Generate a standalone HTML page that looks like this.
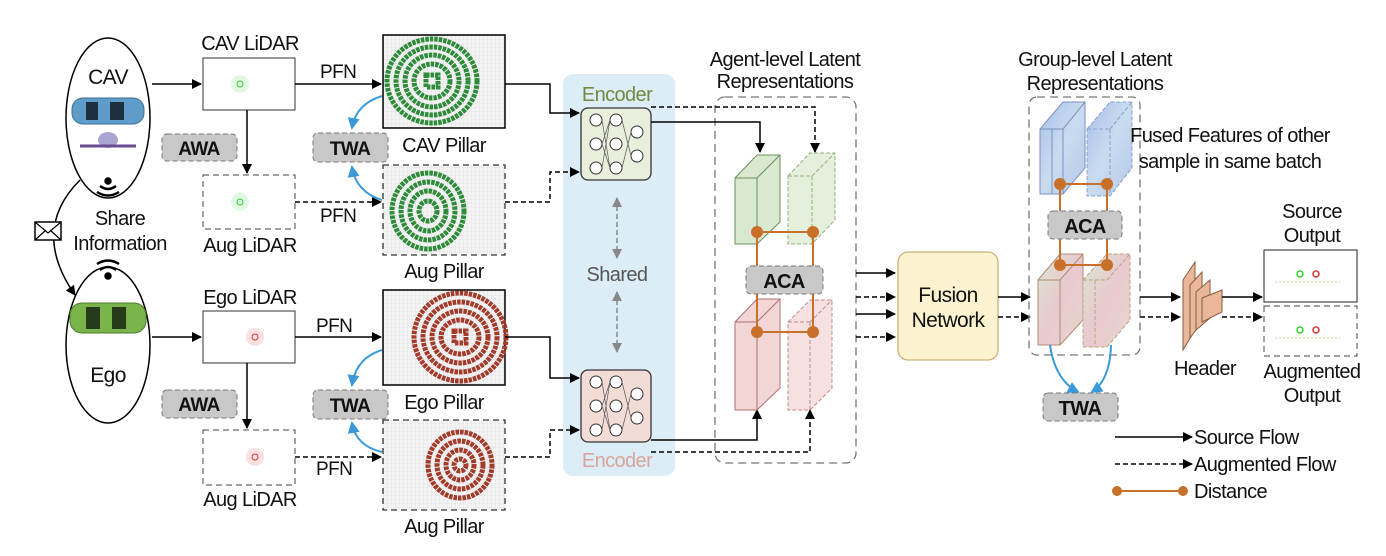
<!DOCTYPE html>
<html><head><meta charset="utf-8"><style>
html,body{margin:0;padding:0;background:#fff}
svg{display:block}
text{font-family:"Liberation Sans Narrow","Liberation Sans",sans-serif;fill:#111;letter-spacing:-0.6px}
</style></head><body>
<svg width="1386" height="556" viewBox="0 0 1386 556" xmlns="http://www.w3.org/2000/svg">
<defs>
<marker id="ah" markerWidth="10" markerHeight="10" refX="9" refY="5" orient="auto" markerUnits="userSpaceOnUse"><path d="M0,0 L10,5 L0,10 Z" fill="#000"/></marker>
<marker id="ab" markerWidth="12" markerHeight="12" refX="10" refY="6" orient="auto" markerUnits="userSpaceOnUse"><path d="M0,0 L12,6 L0,12 Z" fill="#3a9ad9"/></marker>
<marker id="ag" markerWidth="10" markerHeight="10" refX="9" refY="5" orient="auto-start-reverse" markerUnits="userSpaceOnUse"><path d="M0,0 L10,5 L0,10 Z" fill="#888"/></marker>
<pattern id="grid" width="4" height="4" patternUnits="userSpaceOnUse"><rect width="4" height="4" fill="#f4f4f4"/><path d="M4,0 V4 H0" fill="none" stroke="#d8d8d8" stroke-width="0.6"/></pattern>
<linearGradient id="gb" x1="0" y1="0" x2="1" y2="1"><stop offset="0" stop-color="#a9c0ea"/><stop offset="0.5" stop-color="#c9dcef"/><stop offset="1" stop-color="#b6c6e8"/></linearGradient>
<linearGradient id="gp" x1="0" y1="0" x2="1" y2="1"><stop offset="0" stop-color="#d9e7d2"/><stop offset="0.5" stop-color="#e8c9cf"/><stop offset="1" stop-color="#e6d6cc"/></linearGradient>
</defs>

<!-- CAV / Ego ellipses -->
<ellipse cx="108" cy="118" rx="42" ry="80" fill="#fff" stroke="#000" stroke-width="1.5"/>
<text x="108" y="84" font-size="21" text-anchor="middle">CAV</text>
<rect x="72" y="98" width="72" height="26" rx="11" fill="#5f9cc9" stroke="#3a6f95"/>
<rect x="86" y="102" width="12" height="18" fill="#1e2f40"/><rect x="110" y="102" width="14" height="18" fill="#1e2f40"/>
<ellipse cx="108" cy="140" rx="10" ry="8" fill="#a9a5cf"/><line x1="80" y1="146" x2="136" y2="146" stroke="#6a4c93" stroke-width="3"/>
<ellipse cx="108" cy="345" rx="42" ry="78" fill="#fff" stroke="#000" stroke-width="1.5"/>
<rect x="70" y="303" width="76" height="30" rx="12" fill="#7ab44a" stroke="#4d7d2c"/>
<rect x="86" y="307" width="14" height="22" fill="#263a1c"/><rect x="112" y="307" width="14" height="22" fill="#263a1c"/>
<text x="108" y="382" font-size="21" text-anchor="middle">Ego</text>
<!-- wifi -->
<g fill="none" stroke="#000" stroke-width="2.5">
<path d="M100,186 Q108,192 116,186"/><path d="M97,192 Q108,199 119,192"/><circle cx="108" cy="181" r="2.5" fill="#000"/>
<path d="M100,270 Q108,264 116,270"/><path d="M97,264 Q108,257 119,264"/><circle cx="108" cy="276" r="2.5" fill="#000"/>
</g>
<text x="120" y="225" font-size="20" text-anchor="middle">Share</text>
<text x="120" y="250" font-size="20" text-anchor="middle">Information</text>
<path d="M80,180 Q30,230 75,295" fill="none" stroke="#000" stroke-width="1.5" marker-end="url(#ah)"/>
<rect x="35" y="222" width="26" height="18" fill="#fff" stroke="#000" stroke-width="1.5"/><path d="M35,222 L48,233 L61,222 M35,240 L46,230 M61,240 L50,230" fill="none" stroke="#000" stroke-width="1.2"/>

<!-- CAV branch -->
<text x="250" y="50" font-size="20" text-anchor="middle">CAV LiDAR</text>
<rect x="203" y="58" width="92" height="52" fill="#fff" stroke="#333"/>
<circle cx="240" cy="84" r="3" fill="none" stroke="#3c3" /><circle cx="240" cy="84" r="9" fill="#3c3" opacity="0.15"/>
<line x1="152" y1="84" x2="201" y2="84" stroke="#000" stroke-width="1.5" marker-end="url(#ah)"/>
<line x1="295" y1="84" x2="381" y2="84" stroke="#000" stroke-width="1.5" marker-end="url(#ah)"/>
<text x="320" y="78" font-size="19">PFN</text>
<rect x="203" y="175" width="92" height="54" fill="#fff" stroke="#444" stroke-dasharray="6,4"/>
<circle cx="240" cy="202" r="3" fill="none" stroke="#3c3"/><circle cx="240" cy="202" r="9" fill="#3c3" opacity="0.15"/>
<text x="250" y="252" font-size="20" text-anchor="middle">Aug LiDAR</text>
<line x1="247" y1="110" x2="247" y2="173" stroke="#000" stroke-width="1.5" marker-end="url(#ah)"/>
<rect x="162" y="134" width="75" height="27" rx="5" fill="#c8c8c8" stroke="#777" stroke-dasharray="5,3"/>
<text x="199" y="155" font-size="19" font-weight="bold" text-anchor="middle">AWA</text>
<path d="M295,202 L381,202" stroke="#000" stroke-width="1.5" stroke-dasharray="5,3" marker-end="url(#ah)"/>
<text x="320" y="222" font-size="19">PFN</text>
<!-- pillars CAV -->
<rect x="383" y="35" width="122" height="93" fill="url(#grid)" stroke="#000" stroke-width="1.5"/>
<g fill="none" stroke="#2e8b3a" stroke-width="5" stroke-dasharray="3.5,1">
<ellipse cx="432" cy="81" rx="45" ry="42"/><ellipse cx="432" cy="81" rx="36" ry="34"/><ellipse cx="432" cy="81" rx="27" ry="26"/><ellipse cx="432" cy="81" rx="18" ry="17"/><rect x="426" y="75" width="12" height="12"/></g>
<rect x="383" y="165" width="122" height="90" fill="url(#grid)" stroke="#333" stroke-dasharray="6,4" stroke-width="1.3"/>
<g fill="none" stroke="#2e8b3a" stroke-width="5" stroke-dasharray="3.5,1">
<ellipse cx="428" cy="211" rx="36" ry="38"/><ellipse cx="428" cy="211" rx="27" ry="29"/><ellipse cx="428" cy="211" rx="18" ry="20"/><ellipse cx="428" cy="211" rx="9" ry="10"/></g>
<text x="444" y="152" font-size="20" text-anchor="middle">CAV Pillar</text>
<text x="444" y="278" font-size="20" text-anchor="middle">Aug Pillar</text>
<rect x="313" y="133" width="75" height="29" rx="5" fill="#c8c8c8" stroke="#777" stroke-dasharray="5,3"/>
<text x="350" y="155" font-size="19" font-weight="bold" text-anchor="middle">TWA</text>
<path d="M382,96 Q356,104 352,128" fill="none" stroke="#3a9ad9" stroke-width="2" marker-end="url(#ab)"/>
<path d="M382,200 Q356,192 352,167" fill="none" stroke="#3a9ad9" stroke-width="2" marker-end="url(#ab)"/>

<!-- Ego branch -->
<text x="250" y="304" font-size="20" text-anchor="middle">Ego LiDAR</text>
<rect x="203" y="311" width="92" height="52" fill="#fff" stroke="#333"/>
<circle cx="255" cy="337" r="3" fill="none" stroke="#d33"/><circle cx="255" cy="337" r="9" fill="#d33" opacity="0.15"/>
<line x1="152" y1="337" x2="201" y2="337" stroke="#000" stroke-width="1.5" marker-end="url(#ah)"/>
<line x1="295" y1="337" x2="381" y2="337" stroke="#000" stroke-width="1.5" marker-end="url(#ah)"/>
<text x="316" y="332" font-size="19">PFN</text>
<rect x="203" y="430" width="92" height="55" fill="#fff" stroke="#444" stroke-dasharray="6,4"/>
<circle cx="255" cy="457" r="3" fill="none" stroke="#d33"/><circle cx="255" cy="457" r="9" fill="#d33" opacity="0.15"/>
<text x="250" y="506" font-size="20" text-anchor="middle">Aug LiDAR</text>
<line x1="247" y1="363" x2="247" y2="428" stroke="#000" stroke-width="1.5" marker-end="url(#ah)"/>
<rect x="162" y="390" width="75" height="28" rx="5" fill="#c8c8c8" stroke="#777" stroke-dasharray="5,3"/>
<text x="199" y="411" font-size="19" font-weight="bold" text-anchor="middle">AWA</text>
<path d="M295,457 L381,457" stroke="#000" stroke-width="1.5" stroke-dasharray="5,3" marker-end="url(#ah)"/>
<text x="316" y="475" font-size="19">PFN</text>
<rect x="383" y="290" width="122" height="95" fill="url(#grid)" stroke="#000" stroke-width="1.5"/>
<g fill="none" stroke="#a33a2a" stroke-width="5" stroke-dasharray="3.5,1">
<ellipse cx="460" cy="337" rx="46" ry="44"/><ellipse cx="460" cy="337" rx="37" ry="35"/><ellipse cx="460" cy="337" rx="28" ry="26"/><ellipse cx="460" cy="337" rx="19" ry="17"/><rect x="454" y="331" width="12" height="12"/></g>
<rect x="383" y="420" width="122" height="90" fill="url(#grid)" stroke="#333" stroke-dasharray="6,4" stroke-width="1.3"/>
<g fill="none" stroke="#a33a2a" stroke-width="5" stroke-dasharray="3.5,1">
<ellipse cx="460" cy="465" rx="32" ry="33"/><ellipse cx="460" cy="465" rx="23" ry="24"/><ellipse cx="460" cy="465" rx="14" ry="15"/><ellipse cx="460" cy="465" rx="6" ry="6"/></g>
<text x="444" y="409" font-size="20" text-anchor="middle">Ego Pillar</text>
<text x="444" y="533" font-size="20" text-anchor="middle">Aug Pillar</text>
<rect x="313" y="390" width="75" height="29" rx="5" fill="#c8c8c8" stroke="#777" stroke-dasharray="5,3"/>
<text x="350" y="412" font-size="19" font-weight="bold" text-anchor="middle">TWA</text>
<path d="M382,350 Q356,358 352,385" fill="none" stroke="#3a9ad9" stroke-width="2" marker-end="url(#ab)"/>
<path d="M382,452 Q356,446 352,423" fill="none" stroke="#3a9ad9" stroke-width="2" marker-end="url(#ab)"/>

<!-- Encoder panel -->
<rect x="563" y="74" width="112" height="402" rx="10" fill="#dcedf7"/>
<text x="617" y="101" font-size="20" text-anchor="middle" style="fill:#6e8b3d">Encoder</text>
<text x="617" y="467" font-size="20" text-anchor="middle" style="fill:#d9a59a">Encoder</text>
<text x="617" y="281" font-size="20" text-anchor="middle" style="fill:#555">Shared</text>
<line x1="617" y1="198" x2="617" y2="258" stroke="#888" stroke-width="1.5" stroke-dasharray="5,3" marker-start="url(#ag)" marker-end="url(#ag)"/>
<line x1="617" y1="292" x2="617" y2="352" stroke="#888" stroke-width="1.5" stroke-dasharray="5,3" marker-start="url(#ag)" marker-end="url(#ag)"/>
<g>
<rect x="581" y="108" width="70" height="72" rx="7" fill="#e9efdc" stroke="#333" stroke-width="1.3"/>
<rect x="581" y="370" width="70" height="72" rx="7" fill="#f3dcd6" stroke="#333" stroke-width="1.3"/>
<g fill="#fff" stroke="#333" stroke-width="1">
<circle cx="596" cy="120" r="6"/><circle cx="596" cy="144" r="6"/><circle cx="596" cy="168" r="6"/><circle cx="616" cy="120" r="6"/><circle cx="616" cy="144" r="6"/><circle cx="616" cy="168" r="6"/><circle cx="637" cy="132" r="6"/><circle cx="637" cy="156" r="6"/>
<circle cx="596" cy="382" r="6"/><circle cx="596" cy="406" r="6"/><circle cx="596" cy="430" r="6"/><circle cx="616" cy="382" r="6"/><circle cx="616" cy="406" r="6"/><circle cx="616" cy="430" r="6"/><circle cx="637" cy="394" r="6"/><circle cx="637" cy="418" r="6"/>
</g>
<path d="M602,120 L610,168 M602,168 L610,120 M602,144 L610,120 M602,144 L610,168 M622,120 L631,156 M622,168 L631,132 M602,382 L610,430 M602,430 L610,382 M602,406 L610,382 M602,406 L610,430 M622,382 L631,418 M622,430 L631,394" stroke="#555" stroke-width="0.7"/>
</g>
<!-- to encoders -->
<path d="M505,84 L550,84 L550,113 L579,113" fill="none" stroke="#000" stroke-width="1.5" marker-end="url(#ah)"/>
<path d="M505,202 L550,202 L550,172 L579,172" fill="none" stroke="#000" stroke-width="1.5" stroke-dasharray="5,3" marker-end="url(#ah)"/>
<path d="M505,337 L550,337 L550,378 L579,378" fill="none" stroke="#000" stroke-width="1.5" marker-end="url(#ah)"/>
<path d="M505,457 L550,457 L550,430 L579,430" fill="none" stroke="#000" stroke-width="1.5" stroke-dasharray="5,3" marker-end="url(#ah)"/>

<!-- Agent level -->
<text x="785" y="66" font-size="20" text-anchor="middle">Agent-level Latent</text>
<text x="785" y="88" font-size="20" text-anchor="middle">Representations</text>
<rect x="715" y="97" width="141" height="366" rx="10" fill="none" stroke="#777" stroke-width="1.3" stroke-dasharray="8,5"/>
<path d="M651,122 L760,122 L760,152" fill="none" stroke="#000" stroke-width="1.5" marker-end="url(#ah)"/>
<path d="M651,107 L815,107 L815,152" fill="none" stroke="#000" stroke-width="1.5" stroke-dasharray="5,3" marker-end="url(#ah)"/>
<path d="M651,440 L757,440 L757,410" fill="none" stroke="#000" stroke-width="1.5" marker-end="url(#ah)"/>
<path d="M651,452 L810,452 L810,410" fill="none" stroke="#000" stroke-width="1.5" stroke-dasharray="5,3" marker-end="url(#ah)"/>
<g stroke="#6e8f5c" stroke-width="1" fill="#d9e8d0">
<path d="M735,178 L757,155 L780,155 L780,222 L757,244 L735,244 Z"/><path d="M757,178 L780,155 M757,178 L757,244 M735,178 L757,178" fill="none"/>
</g>
<g stroke="#8fb07a" stroke-width="1" fill="#e4efdc" stroke-dasharray="4,2">
<path d="M788,176 L810,153 L835,153 L835,220 L812,244 L788,244 Z"/><path d="M812,176 L835,153 M812,176 L812,244 M788,176 L812,176" fill="none"/>
</g>
<g stroke="#b07070" stroke-width="1" fill="#f2d6d6">
<path d="M735,322 L757,299 L780,299 L780,388 L757,410 L735,410 Z"/><path d="M757,322 L780,299 M757,322 L757,410 M735,322 L757,322" fill="none"/>
</g>
<g stroke="#c08a8a" stroke-width="1" fill="#f6e0e0" stroke-dasharray="4,2">
<path d="M788,322 L810,300 L832,300 L832,388 L810,410 L788,410 Z"/><path d="M810,322 L832,300 M810,322 L810,410 M788,322 L810,322" fill="none"/>
</g>
<g stroke="#c8702a" stroke-width="2" fill="#c8702a">
<path d="M757,232 L813,232 M757,232 L757,332 M813,232 L813,332 M757,332 L813,332" fill="none"/>
<circle cx="757" cy="232" r="5"/><circle cx="813" cy="232" r="5"/><circle cx="757" cy="332" r="5"/><circle cx="813" cy="332" r="5"/>
</g>
<rect x="746" y="266" width="77" height="28" rx="5" fill="#c8c8c8" stroke="#777" stroke-dasharray="5,3"/>
<text x="784" y="288" font-size="20" font-weight="bold" text-anchor="middle">ACA</text>

<!-- to fusion -->
<line x1="856" y1="273" x2="895" y2="273" stroke="#000" stroke-width="1.5" marker-end="url(#ah)"/>
<line x1="856" y1="297" x2="895" y2="297" stroke="#000" stroke-width="1.5" stroke-dasharray="5,3" marker-end="url(#ah)"/>
<line x1="856" y1="314" x2="895" y2="314" stroke="#000" stroke-width="1.5" marker-end="url(#ah)"/>
<line x1="856" y1="337" x2="895" y2="337" stroke="#000" stroke-width="1.5" stroke-dasharray="5,3" marker-end="url(#ah)"/>
<rect x="898" y="252" width="100" height="108" rx="10" fill="#fcf2cf" stroke="#c9b277" stroke-width="1.3"/>
<text x="948" y="302" font-size="21" text-anchor="middle">Fusion</text>
<text x="948" y="327" font-size="21" text-anchor="middle">Network</text>
<line x1="998" y1="297" x2="1030" y2="297" stroke="#000" stroke-width="1.5" marker-end="url(#ah)"/>
<line x1="998" y1="317" x2="1030" y2="317" stroke="#000" stroke-width="1.5" stroke-dasharray="5,3" marker-end="url(#ah)"/>

<!-- group level -->
<text x="1095" y="66" font-size="20" text-anchor="middle">Group-level Latent</text>
<text x="1095" y="90" font-size="20" text-anchor="middle">Representations</text>
<rect x="1029" y="97" width="111" height="258" rx="8" fill="none" stroke="#777" stroke-width="1.3" stroke-dasharray="8,5"/>
<g stroke="#7a90c0" stroke-width="1" fill="url(#gb)">
<path d="M1040,129 L1063,102 L1085,102 L1085,168 L1063,194 L1040,194 Z"/><path d="M1052,129 L1052,194 M1063,129 L1085,102 M1063,129 L1063,194 M1040,129 L1063,129" fill="none"/>
</g>
<g stroke="#8aa0cc" stroke-width="1" fill="url(#gb)" stroke-dasharray="4,2">
<path d="M1087,129 L1110,102 L1132,102 L1132,168 L1110,196 L1087,196 Z"/><path d="M1110,129 L1132,102 M1110,129 L1110,196 M1087,129 L1110,129" fill="none"/>
</g>
<g stroke="#b08a70" stroke-width="1" fill="url(#gp)">
<path d="M1038,280 L1060,254 L1083,254 L1083,320 L1060,345 L1038,345 Z"/><path d="M1060,280 L1083,254 M1060,280 L1060,345 M1038,280 L1060,280" fill="none"/>
</g>
<g stroke="#c0a080" stroke-width="1" fill="url(#gp)" stroke-dasharray="4,2">
<path d="M1083,280 L1107,254 L1130,254 L1130,320 L1107,347 L1083,347 Z"/><path d="M1095,280 L1095,347 M1107,280 L1130,254 M1083,280 L1107,280" fill="none"/>
</g>
<text x="1230" y="142" font-size="20" text-anchor="middle">Fused Features of other</text>
<text x="1230" y="168" font-size="20" text-anchor="middle">sample in same batch</text>
<g stroke="#c8702a" stroke-width="2" fill="#c8702a">
<path d="M1060,184 L1107,184 M1060,184 L1060,265 M1107,184 L1107,265 M1060,265 L1107,265" fill="none"/>
<circle cx="1060" cy="184" r="5"/><circle cx="1107" cy="184" r="5"/><circle cx="1060" cy="265" r="5"/><circle cx="1107" cy="265" r="5"/>
</g>
<rect x="1048" y="211" width="74" height="28" rx="5" fill="#c8c8c8" stroke="#777" stroke-dasharray="5,3"/>
<text x="1085" y="233" font-size="20" font-weight="bold" text-anchor="middle">ACA</text>
<path d="M1050,345 Q1055,380 1078,392" fill="none" stroke="#3a9ad9" stroke-width="2" marker-end="url(#ab)"/>
<path d="M1111,345 Q1110,380 1092,392" fill="none" stroke="#3a9ad9" stroke-width="2" marker-end="url(#ab)"/>
<rect x="1043" y="393" width="75" height="28" rx="5" fill="#c8c8c8" stroke="#777" stroke-dasharray="5,3"/>
<text x="1080" y="415" font-size="20" font-weight="bold" text-anchor="middle">TWA</text>

<!-- header -->
<line x1="1140" y1="297" x2="1180" y2="297" stroke="#000" stroke-width="1.5" marker-end="url(#ah)"/>
<line x1="1140" y1="317" x2="1180" y2="317" stroke="#000" stroke-width="1.5" stroke-dasharray="5,3" marker-end="url(#ah)"/>
<g stroke="#8a5a40" stroke-width="1" fill="#e8b898">
<path d="M1183,280 L1195,262 L1195,330 L1183,350 Z"/>
<path d="M1190,285 L1202,272 L1202,322 L1190,338 Z"/>
<path d="M1196,292 L1210,280 L1210,318 L1196,330 Z"/>
<path d="M1202,298 L1222,290 L1222,312 L1202,322 Z"/>
</g>
<text x="1205" y="375" font-size="20" text-anchor="middle">Header</text>
<line x1="1222" y1="297" x2="1262" y2="297" stroke="#000" stroke-width="1.5" marker-end="url(#ah)"/>
<line x1="1222" y1="317" x2="1262" y2="317" stroke="#000" stroke-width="1.5" stroke-dasharray="5,3" marker-end="url(#ah)"/>
<text x="1312" y="218" font-size="20" text-anchor="middle">Source</text>
<text x="1312" y="242" font-size="20" text-anchor="middle">Output</text>
<rect x="1264" y="250" width="93" height="52" fill="#fff" stroke="#222"/>
<rect x="1264" y="306" width="93" height="50" fill="#fff" stroke="#444" stroke-dasharray="6,4"/>
<g fill="none" stroke-width="1.5">
<circle cx="1300" cy="274" r="3" stroke="#3c3"/><circle cx="1316" cy="274" r="3" stroke="#d33"/>
<circle cx="1300" cy="330" r="3" stroke="#3c3"/><circle cx="1316" cy="330" r="3" stroke="#d33"/>
</g>
<g stroke="#e8b060" stroke-width="1" stroke-dasharray="2,2" opacity="0.7">
<line x1="1275" y1="282" x2="1340" y2="282"/><line x1="1275" y1="338" x2="1340" y2="338"/>
</g>
<text x="1312" y="378" font-size="20" text-anchor="middle">Augmented</text>
<text x="1312" y="402" font-size="20" text-anchor="middle">Output</text>

<!-- legend -->
<line x1="1115" y1="437" x2="1192" y2="437" stroke="#000" stroke-width="1.5" marker-end="url(#ah)"/>
<text x="1194" y="444" font-size="20">Source Flow</text>
<line x1="1115" y1="464" x2="1192" y2="464" stroke="#000" stroke-width="1.5" stroke-dasharray="5,3" marker-end="url(#ah)"/>
<text x="1194" y="471" font-size="20">Augmented Flow</text>
<line x1="1117" y1="491" x2="1183" y2="491" stroke="#c8702a" stroke-width="2"/>
<circle cx="1117" cy="491" r="5" fill="#c8702a"/><circle cx="1183" cy="491" r="5" fill="#c8702a"/>
<text x="1194" y="498" font-size="20">Distance</text>
</svg>
</body></html>
